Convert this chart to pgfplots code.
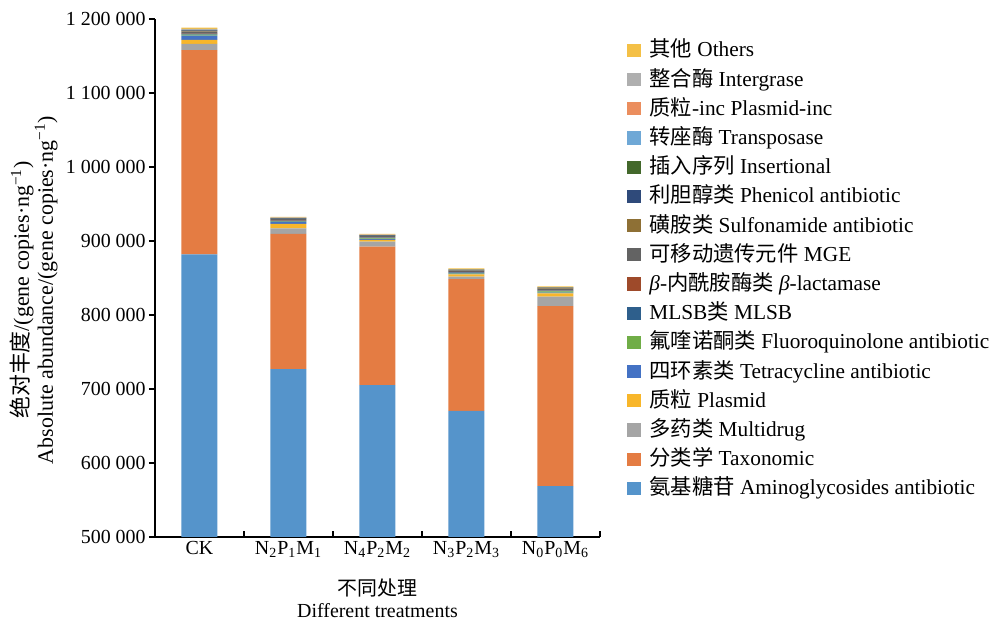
\documentclass[border=0pt]{standalone}
\usepackage{fontspec}
\setmainfont{Liberation Serif}
\newfontfamily\cjk{Noto Sans CJK SC}
\usepackage{pgfplots}
\pgfplotsset{compat=1.18}
\usepackage{pgfplotstable}

% Absolute abundance (gene copies per ng) of each gene class, stacked per treatment
\pgfplotstableread{
x amino tax multi plasmid tetra fluoro mlsb blact mge sulf phen ins trans pinc integ others
0 882000 276000 8500 5400 5800 1300 1300 700 2000 800 800 700 400 400 500 1800
1 727000 182500 7700 5800 2500 700 1000 500 1800 500 600 400 200 200 300 1000
2 705400 187000 6800 2300 1200 900 900 500 1500 500 500 400 200 200 300 1000
3 670300 178300 3100 3200 900 900 1000 500 1600 500 500 400 200 200 300 1100
4 568900 243200 12600 4600 1000 1500 1000 600 2000 500 600 400 200 200 300 1200
}\data

\definecolor{cAmino}{HTML}{5594CB}
\definecolor{cTax}{HTML}{E47C43}
\definecolor{cMulti}{HTML}{A5A5A5}
\definecolor{cPlasmid}{HTML}{F8B62A}
\definecolor{cTetra}{HTML}{4472C4}
\definecolor{cFluoro}{HTML}{70AD47}
\definecolor{cMLSB}{HTML}{2E5F8C}
\definecolor{cBlact}{HTML}{9E4A2A}
\definecolor{cMGE}{HTML}{636363}
\definecolor{cSulf}{HTML}{8E7035}
\definecolor{cPhen}{HTML}{2F4A7A}
\definecolor{cIns}{HTML}{43682B}
\definecolor{cTrans}{HTML}{6FA8D6}
\definecolor{cPinc}{HTML}{EB8E5E}
\definecolor{cInteg}{HTML}{AFAFAF}
\definecolor{cOthers}{HTML}{F4C046}

\begin{document}
\begin{tikzpicture}[font=\fontsize{10}{12.5}\selectfont]
\useasboundingbox (-77.5bp,-42.5bp) rectangle (418.5bp,268.5bp);
\begin{axis}[
  at={(0,0)}, anchor=south west,
  scale only axis, width=222.5bp, height=259bp,
  ybar stacked, bar width=18bp,
  xmin=-0.5, xmax=4.5,
  ymin=500000, ymax=1200000,
  scaled y ticks=false,
  axis x line*=bottom, axis y line*=left,
  axis line style={line width=0.6pt, -},
  xtick={0,1,2,3,4},
  xticklabels={CK,
    N\textsubscript{2}P\textsubscript{1}M\textsubscript{1},
    N\textsubscript{4}P\textsubscript{2}M\textsubscript{2},
    N\textsubscript{3}P\textsubscript{2}M\textsubscript{3},
    N\textsubscript{0}P\textsubscript{0}M\textsubscript{6}},
  minor xtick={0.5,1.5,2.5,3.5,4.5},
  major x tick style={draw=none},
  minor x tick style={line width=0.6pt, black},
  minor tick length=3bp,
  xtick align=inside,
  ytick={500000,600000,700000,800000,900000,1000000,1100000,1200000},
  yticklabels={500 000,600 000,700 000,800 000,900 000,1 000 000,1 100 000,1 200 000},
  ytick align=outside,
  major y tick style={line width=0.6pt, black},
  major tick length=3bp,
  xticklabel style={inner sep=1bp, yshift=-1bp},
  yticklabel style={inner sep=1.5bp},
  ylabel={{\cjk 绝对丰度}/(gene copies·ng\textsuperscript{−1})\\Absolute abundance/(gene copies·ng\textsuperscript{−1})},
  ylabel style={at={(axis description cs:-0.272,0.477)}, anchor=center, align=center, font=\fontsize{11}{12}\selectfont},
  xlabel={{\cjk 不同处理}\\Different treatments},
  xlabel style={at={(axis description cs:0.5,-0.118)}, anchor=center, align=center, font=\fontsize{10}{11}\selectfont},
  reverse legend,
  legend cell align=left,
  legend style={draw=none, fill=none, inner sep=0pt,
    at={(axis description cs:1.0607,0.9585)}, anchor=north west,
    nodes={inner sep=0pt, text height=8bp, text depth=2.5bp},
    row sep=4.1bp, font=\fontsize{10.7}{12}\selectfont},
  legend image code/.code={\fill[#1] (0bp,-2.8bp) rectangle (6.6bp,3.8bp); \path (11bp,0bp);},
  every axis plot/.append style={draw=none},
]
\addplot[fill=cAmino] table[x=x, y=amino] {\data};
\addlegendentry{{\cjk 氨基糖苷} Aminoglycosides antibiotic}
\addplot[fill=cTax] table[x=x, y=tax] {\data};
\addlegendentry{{\cjk 分类学} Taxonomic}
\addplot[fill=cMulti] table[x=x, y=multi] {\data};
\addlegendentry{{\cjk 多药类} Multidrug}
\addplot[fill=cPlasmid] table[x=x, y=plasmid] {\data};
\addlegendentry{{\cjk 质粒} Plasmid}
\addplot[fill=cTetra] table[x=x, y=tetra] {\data};
\addlegendentry{{\cjk 四环素类} Tetracycline antibiotic}
\addplot[fill=cFluoro] table[x=x, y=fluoro] {\data};
\addlegendentry{{\cjk 氟喹诺酮类} Fluoroquinolone antibiotic}
\addplot[fill=cMLSB] table[x=x, y=mlsb] {\data};
\addlegendentry{MLSB{\cjk 类} MLSB}
\addplot[fill=cBlact] table[x=x, y=blact] {\data};
\addlegendentry{\textit{β}-{\cjk 内酰胺酶类} \textit{β}-lactamase}
\addplot[fill=cMGE] table[x=x, y=mge] {\data};
\addlegendentry{{\cjk 可移动遗传元件} MGE}
\addplot[fill=cSulf] table[x=x, y=sulf] {\data};
\addlegendentry{{\cjk 磺胺类} Sulfonamide antibiotic}
\addplot[fill=cPhen] table[x=x, y=phen] {\data};
\addlegendentry{{\cjk 利胆醇类} Phenicol antibiotic}
\addplot[fill=cIns] table[x=x, y=ins] {\data};
\addlegendentry{{\cjk 插入序列} Insertional}
\addplot[fill=cTrans] table[x=x, y=trans] {\data};
\addlegendentry{{\cjk 转座酶} Transposase}
\addplot[fill=cPinc] table[x=x, y=pinc] {\data};
\addlegendentry{{\cjk 质粒}-inc Plasmid-inc}
\addplot[fill=cInteg] table[x=x, y=integ] {\data};
\addlegendentry{{\cjk 整合酶} Intergrase}
\addplot[fill=cOthers] table[x=x, y=others] {\data};
\addlegendentry{{\cjk 其他} Others}
\end{axis}
\end{tikzpicture}
\end{document}
